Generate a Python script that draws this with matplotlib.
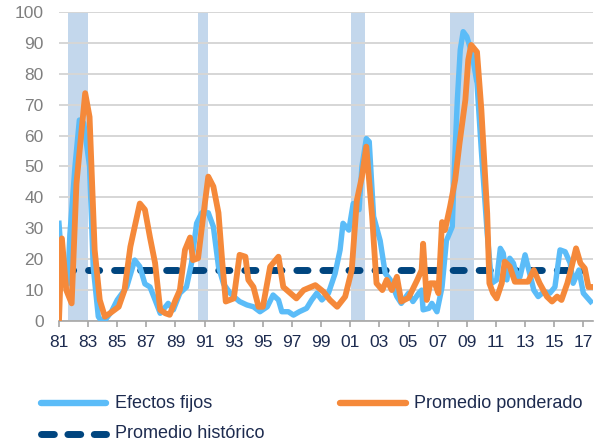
import matplotlib
matplotlib.use("Agg")
import matplotlib.pyplot as plt
from matplotlib.lines import Line2D

plt.rcParams["font.family"] = ["Liberation Sans", "DejaVu Sans"]

# Efectos fijos (blue)
t_fijos = [1981.0, 1981.3, 1981.6, 1981.75, 1982.1, 1982.4, 1982.7, 1983.1, 1983.35, 1983.7,
           1983.93, 1984.2, 1984.6, 1985.0, 1985.65, 1986.2, 1986.55, 1986.9, 1987.25, 1987.6,
           1987.95, 1988.5, 1988.85, 1989.3, 1989.75, 1990.1, 1990.45, 1990.8, 1991.25, 1991.6,
           1991.95, 1992.3, 1992.75, 1993.0, 1993.4, 1993.9, 1994.35, 1994.8, 1995.3, 1995.7,
           1996.07, 1996.3, 1996.75, 1997.1, 1997.5, 1998.0, 1998.35, 1998.7, 1999.05, 1999.5,
           1999.96, 2000.3, 2000.5, 2000.9, 2001.2, 2001.6, 2001.8, 2002.1, 2002.3, 2002.6,
           2003.05, 2003.4, 2003.75, 2004.2, 2004.5, 2005.0, 2005.3, 2005.7, 2005.9, 2006.0,
           2006.4, 2006.6, 2006.95, 2007.3, 2007.6, 2008.0, 2008.15, 2008.35, 2008.55, 2008.75,
           2009.0, 2009.35, 2009.7, 2010.0, 2010.4, 2010.7, 2011.05, 2011.3, 2011.5, 2011.75,
           2011.95, 2012.2, 2012.45, 2012.65, 2013.0, 2013.2, 2013.6, 2013.9, 2014.3, 2014.7,
           2015.05, 2015.4, 2015.75, 2016.1, 2016.3, 2016.7, 2017.0, 2017.5]
v_fijos = [31.6, 12, 12, 28, 50, 65, 64, 50, 17.6, 1.4,
           0, 0.5, 3, 6.8, 11, 19.7, 17.6, 12, 11, 6.8,
           2.5, 5.7, 3.6, 9, 11, 18.7, 31.6, 35, 35, 30.5,
           17.6, 12, 9, 7.9, 6.3, 5.2, 4.6, 3, 4.6, 8.4,
           6.8, 3, 3, 1.9, 3, 4.1, 6.8, 9, 6.8, 9,
           15.4, 23, 31.6, 29.4, 38, 36, 50, 59, 58, 33.8,
           26, 15.4, 13.3, 7.9, 5.7, 9, 6.3, 9, 10, 3.6,
           4.1, 5.7, 3, 11, 26, 30.5, 50, 71.5, 87.7, 93.6,
           92, 86.6, 77, 55, 28.4, 12.2, 13.3, 23.5, 21.9, 13.3,
           20.3, 18.7, 14.3, 14.3, 21.4, 17.6, 10, 7.9, 9.5, 9,
           11, 23, 22.4, 18.7, 12.2, 16.5, 9, 6.3]

# Promedio ponderado (orange)
t_pond = [1981.0, 1981.2, 1981.5, 1981.87, 1982.2, 1982.8, 1983.1, 1983.45, 1983.8, 1984.15,
          1984.5, 1985.1, 1985.5, 1985.9, 1986.2, 1986.55, 1986.9, 1987.25, 1987.6, 1987.95,
          1988.3, 1988.6, 1989.0, 1989.3, 1989.65, 1990.0, 1990.2, 1990.55, 1990.9, 1991.25,
          1991.6, 1991.95, 1992.2, 1992.45, 1993.0, 1993.4, 1993.8, 1994.0, 1994.35, 1994.7,
          1995.0, 1995.5, 1996.07, 1996.4, 1997.3, 1997.8, 1998.6, 1999.15, 1999.6, 2000.1,
          2000.65, 2001.1, 2001.45, 2001.8, 2002.1, 2002.5, 2002.8, 2003.2, 2003.5, 2003.85,
          2004.2, 2004.5, 2005.0, 2005.6, 2005.9, 2006.0, 2006.25, 2006.5, 2006.8, 2007.05,
          2007.3, 2007.5, 2007.85, 2008.2, 2008.5, 2008.9, 2009.1, 2009.3, 2009.7, 2010.0,
          2010.4, 2010.55, 2010.8, 2011.05, 2011.4, 2011.6, 2011.95, 2012.3, 2012.75, 2013.2,
          2013.6, 2014.0, 2014.5, 2014.85, 2015.2, 2015.5, 2015.9, 2016.2, 2016.5, 2016.8,
          2017.1, 2017.35, 2017.6]
v_pond = [0, 26.7, 10, 5.7, 44.5, 73.7, 66, 23, 6.8, 1.4,
          2.5, 4.6, 10, 24, 30.5, 38, 36, 27, 18.7, 3.6,
          2.5, 2, 6.8, 10, 23, 27, 19.7, 20.3, 33.8, 46.7,
          43.5, 35, 19.7, 6.3, 7.3, 21.4, 20.8, 13.3, 11, 4.6,
          4.6, 17.6, 20.8, 11, 7.3, 10, 11.6, 9.5, 6.8, 4.6,
          7.9, 16.5, 39, 46.7, 56.4, 33.8, 12.2, 10, 13.3, 10,
          14.3, 6.3, 7.5, 13.3, 16.5, 25, 6.8, 12.2, 12.2, 9,
          32, 29.4, 37, 45.6, 57.5, 71.5, 84.5, 89.3, 87, 68.3,
          34.8, 12.2, 9, 7.3, 12.2, 19.2, 17.6, 12.7, 12.7, 12.7,
          16.5, 12.2, 7.9, 6.3, 7.9, 6.8, 12.2, 17.6, 23.5, 18.7,
          17, 11, 11]

promedio_historico = 16.5
recesiones = [(1981.62, 1983.0), (1990.55, 1991.25), (2001.05, 2002.04), (2007.85, 2009.5)]

tick_years = list(range(1981, 2018, 2))
tick_labels = ["%02d" % (y % 100) for y in tick_years]
legend_labels = ["Efectos fijos", "Promedio ponderado", "Promedio histórico"]

c_blue = "#5bbcf8"
c_orange = "#f5893a"
c_navy = "#00457f"
c_band = "#c3d7ec"
c_text = "#1d2b4f"

fig = plt.figure(figsize=(6.08, 4.48), dpi=100)
ax = fig.add_axes([0.097, 0.2835, 0.878, 0.690])

for a, b in recesiones:
    ax.axvspan(a, b, color=c_band, lw=0, zorder=0)

ax.plot(t_fijos, v_fijos, color=c_blue, lw=3.9, solid_joinstyle="round", zorder=3)
ax.plot(t_pond, v_pond, color=c_orange, lw=4.2, solid_joinstyle="round", zorder=4)
ax.hlines(promedio_historico, tick_years[0] + 0.2, tick_years[-1], color=c_navy, lw=5,
          linestyle=(0, (1.6, 2.15)), capstyle="round", zorder=2)

ax.set_xlim(1981, 2017.65)
ax.set_ylim(0, 100)
ax.set_yticks(range(0, 101, 10))
ax.set_xticks(tick_years)
ax.set_xticklabels(tick_labels)
ax.grid(axis="y", color="#d6d6d6", lw=1.4, zorder=1)
ax.set_axisbelow(True)
for s in ["top", "right", "left"]:
    ax.spines[s].set_visible(False)
ax.spines["bottom"].set_color("#a6a6a6")
ax.spines["bottom"].set_linewidth(1.2)
ax.tick_params(axis="y", length=0, pad=11, labelsize=12.5, labelcolor="#7f7f7f")
ax.tick_params(axis="x", length=4, width=1.2, color="#a6a6a6", pad=6, labelsize=12.5,
               labelcolor=c_text)

# legend drawn below the plot
rows = [0.1004, 0.1004, 0.0313]
starts = [0.061, 0.553, 0.061]
styles = [dict(color=c_blue, lw=4.6), dict(color=c_orange, lw=4.6),
          dict(color=c_navy, lw=5, linestyle=(0, (1.85, 1.95)))]
for lab, y, x0, st in zip(legend_labels, rows, starts, styles):
    ln = Line2D([x0 + 0.006, x0 + 0.114], [y, y], transform=fig.transFigure,
                solid_capstyle="round", dash_capstyle="round", **st)
    fig.add_artist(ln)
    fig.text(x0 + 0.128, y, lab, fontsize=13, color=c_text, va="center", ha="left")

fig.savefig("out.png", dpi=100)
